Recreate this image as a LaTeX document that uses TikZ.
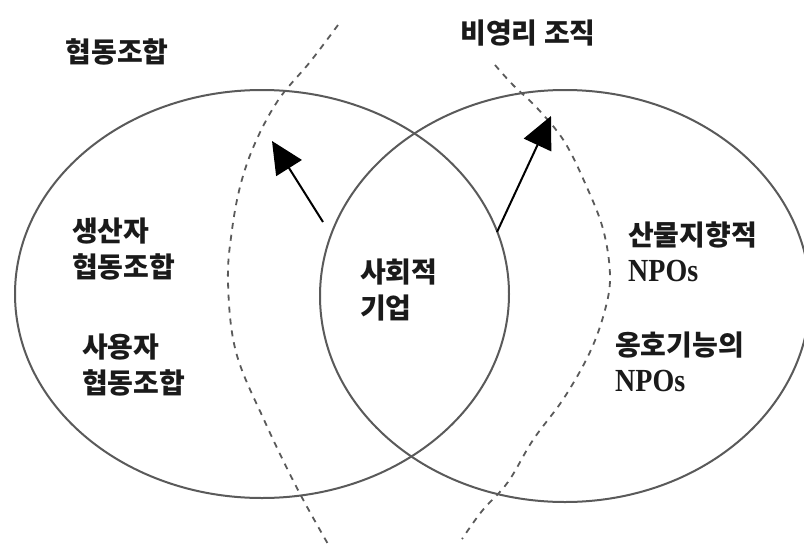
\documentclass[tikz,border=0pt]{standalone}
\usepackage{fontspec}
\usepackage{graphicx}
\setmainfont{Liberation Serif}
\newfontfamily\kr{Noto Sans CJK KR}
\usetikzlibrary{arrows.meta}
\definecolor{linegray}{HTML}{5A5A5A}
\definecolor{txt}{HTML}{1A1A1A}
\newcommand{\npos}{{\rmfamily\scalebox{1}[1.15]{NPOs}}}
\tikzset{
  venn/.style={draw=linegray, line width=2pt},
  bound/.style={draw=linegray, line width=1.8pt, dash pattern=on 6pt off 6pt},
  flow/.style={draw=black, line width=2pt, -{Triangle[length=32pt,width=30pt]}},
  lbl/.style={inner sep=0pt, text=txt, font=\kr\bfseries\fontsize{28}{36}\selectfont, align=left, anchor=west},
}
\begin{document}
\begin{tikzpicture}[x=1pt,y=-1pt]
\useasboundingbox[fill=white] (0,0) rectangle (804,552);
% Venn ellipses
\draw[venn] (262,294) ellipse [x radius=247pt, y radius=204pt];
\draw[venn] (565,296) ellipse [x radius=245pt, y radius=206pt];
% dashed boundaries
\draw[bound] plot[smooth, tension=0.6] coordinates {(338,25) (310,62) (279,99) (256,141) (241,183) (232,230) (228,282) (236,352) (265,422) (298,490) (328,544)};
\draw[bound] plot[smooth, tension=0.6] coordinates {(495,65) (513,85) (538,109) (564,141) (585,183) (603,229) (610,275) (605,310) (590,352) (564,398) (533,440) (508,482) (482,511) (462,539)};
% arrows
\coordinate (la) at (323,222);
\coordinate (lt) at (272,141);
\coordinate (ra) at (497,232);
\coordinate (rt) at (551,116);
\draw[flow] (la) -- (lt);
\draw[flow] (ra) -- (rt);
% labels
\node[lbl, anchor=center] (coop) at (117,52) {협동조합};
\node[lbl, anchor=center] (npo) at (528,33) {비영리 조직};
\node[lbl] (prod) at (72,249) {생산자\\협동조합};
\node[lbl] (user) at (82,365) {사용자\\협동조합};
\node[lbl] (se) at (360,290) {사회적\\기업};
\node[lbl] (outp) at (628,252) {산물지향적\\\npos};
\node[lbl] (adv) at (615,362) {옹호기능의\\\npos};
\end{tikzpicture}
\end{document}
